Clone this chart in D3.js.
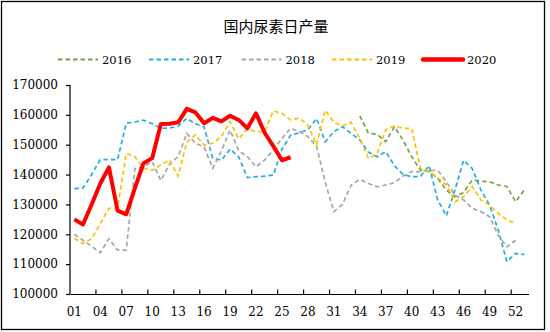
<!DOCTYPE html>
<html><head><meta charset="utf-8">
<script src="https://cdn.jsdelivr.net/npm/d3@7"></script>
<style>
html,body{margin:0;padding:0;background:#fff;}
svg{display:block;}
</style></head>
<body>
<svg id="chart" width="550" height="332"></svg>
<script>
const title = "国内尿素日产量";
const weeks = d3.range(1, 54).map(d => String(d).padStart(2, "0"));
const tickLabels = ["01","04","07","10","13","16","19","22","25","28","31","34","37","40","43","46","49","52"];
const yTicks = [100000,110000,120000,130000,140000,150000,160000,170000];
const seriesNames = ["2016","2017","2018","2019","2020"];
const colors = ["#77A348","#20AEE0","#A6A6A6","#FFC000","#FF0000"];

const s2016 = [null,null,null,null,null,null,null,null,null,null,null,null,null,null,null,null,null,null,null,null,null,null,null,null,null,null,null,null,null,null,null,null,null,
  159700,153800,153500,151000,156000,151500,146000,141500,141000,138700,134800,132600,134000,138200,137800,137600,136500,136000,130900,134800];
const s2017 = [135300,135500,140000,145000,145000,145000,157200,157600,158200,157000,155500,155600,156200,158800,157000,156000,145500,144800,148500,146000,
  139000,139300,139500,139800,148500,153200,154000,155000,158800,151000,154400,156000,153800,151600,147500,146000,147700,143000,140000,139300,
  139300,143000,131500,126200,134800,144800,142000,134800,129800,121400,110800,113600,113200];
const s2018 = [120000,118000,116000,113800,118500,114700,114700,142000,142700,144300,138000,143500,146000,153800,150500,149200,142100,147900,154900,148000,
  146000,142600,144900,148200,152100,155500,154400,152700,149500,137500,127600,130000,136500,138400,137000,135900,136500,137300,139500,141000,
  141000,141300,141500,137600,133100,131500,128700,127600,125900,119700,115800,118000];
const s2019 = [118600,116900,118500,123600,128700,128700,147100,146000,142100,141500,143200,144900,139500,150800,153300,149900,150500,152700,157700,152000,
  155300,154400,154400,161300,160500,158300,158900,156600,150000,161600,157500,156300,157500,152000,145400,147100,155000,156300,155500,155500,
  142100,141000,139000,136500,130900,132600,136000,131500,129800,127000,124800,123600];
const s2020 = [125000,123300,130000,137000,142400,127900,126700,135500,143800,145500,156900,157000,157500,162000,160800,157200,159000,157800,159700,158300,
  155500,160500,154000,149500,144800,145800];

const seriesData = [s2016, s2017, s2018, s2019, s2020];

const svg = d3.select("#chart");
const serif = "'DejaVu Serif', 'Liberation Serif', serif";

// outer frame
svg.append("rect").attr("x", 1.5).attr("y", 1.5).attr("width", 543).attr("height", 328)
  .attr("fill", "none").attr("stroke", "#000").attr("stroke-width", 1.3);

// title
svg.append("text").attr("x", 276).attr("y", 32).attr("text-anchor", "middle")
  .attr("font-family", "'Noto Sans CJK SC', sans-serif").attr("font-size", 15)
  .attr("fill", "#000").text(title);

const x = d3.scaleBand().domain(weeks).range([70, 528.5]).padding(0);
const y = d3.scaleLinear().domain([100000, 170000]).range([294, 85]);
const cx = w => x(w) + x.bandwidth() / 2;

// y axis
const yAxis = svg.append("g").attr("transform", "translate(70,0)")
  .call(d3.axisLeft(y).tickValues(yTicks).tickSize(4).tickPadding(8).tickFormat(d3.format("d")));
yAxis.select(".domain").attr("stroke", "#000").attr("stroke-width", 1.2).attr("d", "M0,85V294");
yAxis.selectAll(".tick line").attr("stroke", "#000").attr("stroke-width", 1.2);
yAxis.selectAll("text").attr("font-family", serif).attr("font-size", 12).attr("fill", "#000");

// x axis labels
const xAxis = svg.append("g").attr("transform", "translate(0,294)")
  .call(d3.axisBottom(x).tickValues(tickLabels).tickSize(0).tickPadding(13));
xAxis.select(".domain").attr("stroke", "#000").attr("stroke-width", 1.2);
xAxis.selectAll("text").attr("font-family", serif).attr("font-size", 12).attr("fill", "#000");
// x tick marks at category boundaries (inward)
svg.append("g").selectAll("line").data(tickLabels.slice(1)).join("line")
  .attr("x1", d => x(d)).attr("x2", d => x(d))
  .attr("y1", 294).attr("y2", 289.5)
  .attr("stroke", "#000").attr("stroke-width", 1.2);

// lines
const line = d3.line()
  .defined(d => d.v != null)
  .x(d => cx(d.w)).y(d => y(d.v));

seriesData.forEach((arr, i) => {
  const pts = arr.map((v, j) => ({ w: weeks[j], v: v }));
  const isRed = i === 4;
  svg.append("path").datum(pts)
    .attr("fill", "none")
    .attr("stroke", colors[i])
    .attr("stroke-width", isRed ? 4 : 1.7)
    .attr("stroke-dasharray", isRed ? null : "4.5,3")
    .attr("stroke-linejoin", isRed ? "round" : "miter")
    .attr("d", line);
});

// legend
const legendX = [58, 149, 241.5, 332, 423];
const lg = svg.append("g");
seriesNames.forEach((name, i) => {
  const isRed = i === 4;
  lg.append("line")
    .attr("x1", legendX[i]).attr("x2", legendX[i] + 40)
    .attr("y1", 59.5).attr("y2", 59.5)
    .attr("stroke", colors[i])
    .attr("stroke-width", isRed ? 4.5 : 1.8)
    .attr("stroke-linecap", isRed ? "round" : "butt")
    .attr("stroke-dasharray", isRed ? null : "4.5,3");
  lg.append("text")
    .attr("x", legendX[i] + 44).attr("y", 64)
    .attr("font-family", serif).attr("font-size", 11.5).attr("fill", "#000")
    .text(name);
});
</script>
</body></html>
